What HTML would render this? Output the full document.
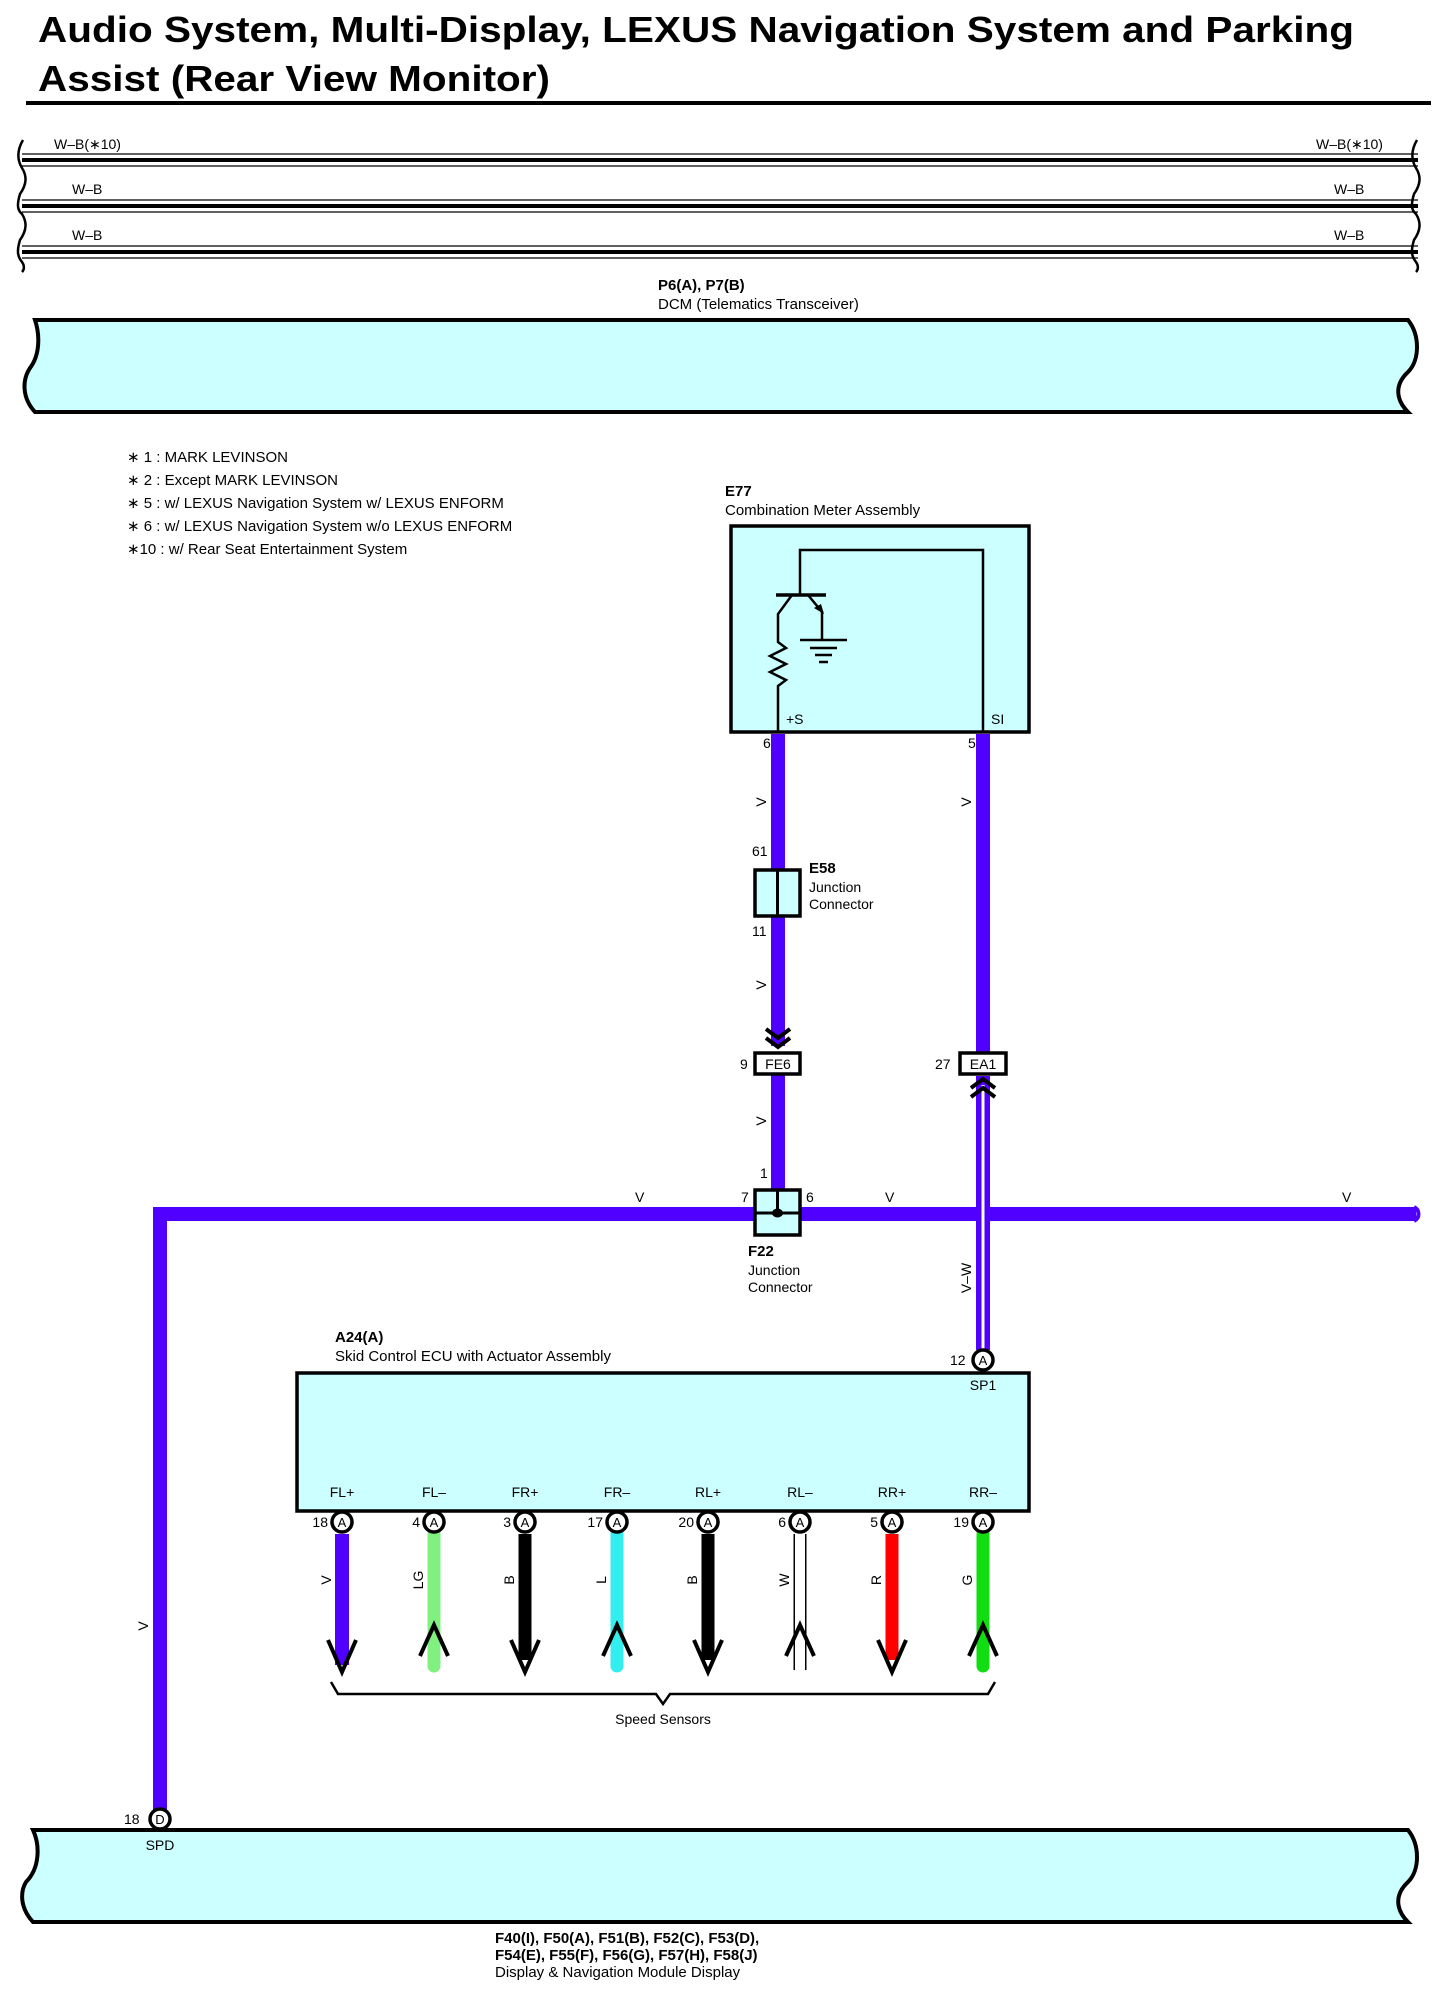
<!DOCTYPE html>
<html><head><meta charset="utf-8"><style>
html,body{margin:0;padding:0;background:#fff;}
svg{display:block;}
text{font-family:"Liberation Sans",Arial,sans-serif;fill:#000;}
</style></head><body>
<svg width="1440" height="1998" viewBox="0 0 1440 1998" xmlns="http://www.w3.org/2000/svg">
<!-- Title -->
<text x="38" y="42" font-size="36" font-weight="bold" textLength="1316" lengthAdjust="spacingAndGlyphs">Audio System, Multi-Display, LEXUS Navigation System and Parking</text>
<text x="38" y="91" font-size="36" font-weight="bold" textLength="512" lengthAdjust="spacingAndGlyphs">Assist (Rear View Monitor)</text>
<rect x="26" y="101" width="1405" height="4" fill="#000"/>

<!-- Bus lines -->
<g stroke="#000" fill="none">
 <g stroke-width="1.3">
  <line x1="22" y1="154" x2="1418" y2="154"/><line x1="22" y1="166" x2="1418" y2="166"/>
  <line x1="22" y1="200" x2="1418" y2="200"/><line x1="22" y1="212" x2="1418" y2="212"/>
  <line x1="22" y1="246" x2="1418" y2="246"/><line x1="22" y1="258" x2="1418" y2="258"/>
 </g>
 <g stroke-width="4">
  <line x1="22" y1="160" x2="1418" y2="160"/>
  <line x1="22" y1="206" x2="1418" y2="206"/>
  <line x1="22" y1="252" x2="1418" y2="252"/>
 </g>
 <path d="M23,140 C17,150 17,160 22,168 C27,176 27,184 20,194 C17,204 17,210 22,214 C27,222 27,230 20,240 C17,250 17,256 22,262 C25,266 24,270 22,272" stroke-width="2.5"/>
 <path d="M1417,140 C1411,150 1411,160 1416,168 C1421,176 1421,184 1414,194 C1411,204 1411,210 1416,214 C1421,222 1421,230 1414,240 C1411,250 1411,256 1416,262 C1419,266 1418,270 1416,272" stroke-width="2.5"/>
</g>
<g font-size="14">
 <text x="54" y="149">W–B(∗10)</text><text x="1316" y="149">W–B(∗10)</text>
 <text x="72" y="194">W–B</text><text x="1334" y="194">W–B</text>
 <text x="72" y="240">W–B</text><text x="1334" y="240">W–B</text>
</g>

<!-- DCM -->
<text x="658" y="290" font-size="15" font-weight="bold">P6(A), P7(B)</text>
<text x="658" y="309" font-size="15">DCM (Telematics Transceiver)</text>
<path d="M35,320 L1408,320 C1420,335 1420,360 1408,372 C1394,385 1396,400 1408,412 L35,412 C22,398 22,380 30,368 C40,355 40,335 35,320 Z" fill="#ccffff" stroke="#000" stroke-width="4"/>

<!-- Notes -->
<g font-size="15">
 <text x="127" y="462">∗ 1 : MARK LEVINSON</text>
 <text x="127" y="485">∗ 2 : Except MARK LEVINSON</text>
 <text x="127" y="508">∗ 5 : w/ LEXUS Navigation System w/ LEXUS ENFORM</text>
 <text x="127" y="531">∗ 6 : w/ LEXUS Navigation System w/o LEXUS ENFORM</text>
 <text x="127" y="554">∗10 : w/ Rear Seat Entertainment System</text>
</g>

<!-- E77 -->
<text x="725" y="496" font-size="15" font-weight="bold">E77</text>
<text x="725" y="515" font-size="15">Combination Meter Assembly</text>
<rect x="731" y="526" width="298" height="206" fill="#ccffff" stroke="#000" stroke-width="3.5"/>
<g stroke="#000" stroke-width="2.5" fill="none">
 <path d="M800,595 L800,550 L983,550 L983,732"/>
 <line x1="776" y1="595" x2="826" y2="595" stroke-width="3.5"/>
 <path d="M792,595 L778,614 L778,642 L786,648 L770,656 L786,664 L770,672 L786,680 L778,686 L778,732"/>
 <path d="M808,595 L822,612 L822,640"/>
 <line x1="800" y1="640" x2="847" y2="640"/>
 <line x1="810" y1="648" x2="837" y2="648"/>
 <line x1="815" y1="655" x2="832" y2="655"/>
 <line x1="819" y1="662" x2="828" y2="662"/>
</g>
<path d="M824,614 L814,608 L821,604 Z" fill="#000"/>
<text x="786" y="724" font-size="14">+S</text>
<text x="991" y="724" font-size="14">SI</text>

<!-- Wires -->
<g stroke="#5000ff" stroke-width="14" fill="none">
 <line x1="778" y1="734" x2="778" y2="870"/>
 <line x1="778" y1="916" x2="778" y2="1046"/>
 <line x1="778" y1="1074" x2="778" y2="1190"/>
 <line x1="983" y1="734" x2="983" y2="1052"/>
 <line x1="983" y1="1076" x2="983" y2="1350"/>
 <path d="M160,1812 L160,1214 L1416,1214"/>
 <line x1="342" y1="1534" x2="342" y2="1665"/>
</g>
<line x1="983" y1="1085" x2="983" y2="1350" stroke="#fff" stroke-width="3"/>
<path d="M1414,1207 C1420,1210 1420,1218 1414,1221" stroke="#5000ff" stroke-width="4" fill="none"/>

<!-- wire labels -->
<g font-size="14">
 <text x="763" y="748">6</text><text x="968" y="748">5</text>
 <text transform="translate(766,802) rotate(-90)" text-anchor="middle">V</text>
 <text transform="translate(971,802) rotate(-90)" text-anchor="middle">V</text>
 <text x="752" y="856">61</text>
 <text x="752" y="936">11</text>
 <text transform="translate(766,985) rotate(-90)" text-anchor="middle">V</text>
 <text transform="translate(766,1121) rotate(-90)" text-anchor="middle">V</text>
 <text x="760" y="1178">1</text>
 <text x="741" y="1202">7</text><text x="806" y="1202">6</text>
 <text x="635" y="1202">V</text><text x="885" y="1202">V</text><text x="1342" y="1202">V</text>
 <text transform="translate(971,1278) rotate(-90)" text-anchor="middle">V–W</text>
 <text transform="translate(148,1626) rotate(-90)" text-anchor="middle">V</text>
</g>

<!-- E58 -->
<rect x="755" y="870" width="45" height="46" fill="#ccffff" stroke="#000" stroke-width="3.5"/>
<line x1="777.5" y1="870" x2="777.5" y2="916" stroke="#000" stroke-width="3"/>
<text x="809" y="873" font-size="15" font-weight="bold">E58</text>
<text x="809" y="892" font-size="14">Junction</text>
<text x="809" y="909" font-size="14">Connector</text>

<!-- FE6 -->
<g stroke="#000" stroke-width="4" fill="none">
 <path d="M766,1029 L778,1038 L790,1029"/>
 <path d="M766,1038 L778,1047 L790,1038"/>
</g>
<rect x="755" y="1053" width="45" height="21" fill="#fff" stroke="#000" stroke-width="3.5"/>
<text x="778" y="1069" font-size="14" text-anchor="middle">FE6</text>
<text x="740" y="1069" font-size="14">9</text>

<!-- EA1 -->
<rect x="960" y="1053" width="46" height="21" fill="#fff" stroke="#000" stroke-width="3.5"/>
<text x="983" y="1069" font-size="14" text-anchor="middle">EA1</text>
<text x="935" y="1069" font-size="14">27</text>
<g stroke="#000" stroke-width="4" fill="none">
 <path d="M971,1088 L983,1079 L995,1088"/>
 <path d="M971,1097 L983,1088 L995,1097"/>
</g>

<!-- F22 -->
<rect x="755" y="1190" width="45" height="45" fill="#ccffff" stroke="#000" stroke-width="3.5"/>
<line x1="755" y1="1213" x2="800" y2="1213" stroke="#000" stroke-width="3"/>
<line x1="777.5" y1="1190" x2="777.5" y2="1213" stroke="#000" stroke-width="3"/>
<ellipse cx="777.5" cy="1213" rx="5.5" ry="4.5" fill="#000"/>
<text x="748" y="1256" font-size="15" font-weight="bold">F22</text>
<text x="748" y="1275" font-size="14">Junction</text>
<text x="748" y="1292" font-size="14">Connector</text>

<!-- A24 -->
<text x="335" y="1342" font-size="15" font-weight="bold">A24(A)</text>
<text x="335" y="1361" font-size="15">Skid Control ECU with Actuator Assembly</text>
<rect x="297" y="1373" width="732" height="138" fill="#ccffff" stroke="#000" stroke-width="3.5"/>
<circle cx="983" cy="1360" r="10" fill="#fff" stroke="#000" stroke-width="3.5"/>
<text x="983" y="1365" font-size="13" text-anchor="middle">A</text>
<text x="950" y="1365" font-size="14">12</text>
<text x="983" y="1390" font-size="14" text-anchor="middle">SP1</text>

<!-- Sensor wires -->
<g fill="none">
 <line x1="434" y1="1534" x2="434" y2="1666" stroke="#80f080" stroke-width="13" stroke-linecap="round"/>
 <line x1="525" y1="1534" x2="525" y2="1660" stroke="#000" stroke-width="13"/>
 <line x1="617" y1="1534" x2="617" y2="1666" stroke="#33eeee" stroke-width="13" stroke-linecap="round"/>
 <line x1="708" y1="1534" x2="708" y2="1660" stroke="#000" stroke-width="13"/>
 <line x1="800" y1="1534" x2="800" y2="1670" stroke="#000" stroke-width="13"/>
 <line x1="800" y1="1534" x2="800" y2="1670" stroke="#fff" stroke-width="10"/>
 <line x1="892" y1="1534" x2="892" y2="1660" stroke="#ff0000" stroke-width="13"/>
 <line x1="983" y1="1534" x2="983" y2="1666" stroke="#11dd11" stroke-width="13" stroke-linecap="round"/>
</g>
<g stroke="#000" stroke-width="4" fill="none">
 <path d="M328,1640 L342,1672 L356,1640"/>
 <path d="M420,1656 L434,1625 L448,1656"/>
 <path d="M511,1640 L525,1672 L539,1640"/>
 <path d="M603,1656 L617,1625 L631,1656"/>
 <path d="M694,1640 L708,1672 L722,1640"/>
 <path d="M786,1656 L800,1625 L814,1656"/>
 <path d="M878,1640 L892,1672 L906,1640"/>
 <path d="M969,1656 L983,1625 L997,1656"/>
</g>
<g font-size="14" text-anchor="middle">
 <text x="342" y="1497">FL+</text><text x="434" y="1497">FL–</text><text x="525" y="1497">FR+</text><text x="617" y="1497">FR–</text>
 <text x="708" y="1497">RL+</text><text x="800" y="1497">RL–</text><text x="892" y="1497">RR+</text><text x="983" y="1497">RR–</text>
</g>
<g fill="#fff" stroke="#000" stroke-width="3.5">
 <circle cx="342" cy="1522" r="10"/><circle cx="434" cy="1522" r="10"/><circle cx="525" cy="1522" r="10"/><circle cx="617" cy="1522" r="10"/>
 <circle cx="708" cy="1522" r="10"/><circle cx="800" cy="1522" r="10"/><circle cx="892" cy="1522" r="10"/><circle cx="983" cy="1522" r="10"/>
</g>
<g font-size="13" text-anchor="middle">
 <text x="342" y="1527">A</text><text x="434" y="1527">A</text><text x="525" y="1527">A</text><text x="617" y="1527">A</text>
 <text x="708" y="1527">A</text><text x="800" y="1527">A</text><text x="892" y="1527">A</text><text x="983" y="1527">A</text>
</g>
<g font-size="14" text-anchor="end">
 <text x="328" y="1527">18</text><text x="420" y="1527">4</text><text x="511" y="1527">3</text><text x="603" y="1527">17</text>
 <text x="694" y="1527">20</text><text x="786" y="1527">6</text><text x="878" y="1527">5</text><text x="969" y="1527">19</text>
</g>
<g font-size="14" text-anchor="middle">
 <text transform="translate(331,1580) rotate(-90)">V</text>
 <text transform="translate(423,1580) rotate(-90)">LG</text>
 <text transform="translate(514,1580) rotate(-90)">B</text>
 <text transform="translate(606,1580) rotate(-90)">L</text>
 <text transform="translate(697,1580) rotate(-90)">B</text>
 <text transform="translate(789,1580) rotate(-90)">W</text>
 <text transform="translate(881,1580) rotate(-90)">R</text>
 <text transform="translate(972,1580) rotate(-90)">G</text>
</g>
<path d="M331,1682 L338,1694 L656,1694 L663,1704 L670,1694 L988,1694 L995,1682" fill="none" stroke="#000" stroke-width="2.5"/>
<text x="663" y="1724" font-size="14" text-anchor="middle">Speed Sensors</text>

<!-- Display box -->
<path d="M33,1830 L1408,1830 C1420,1845 1420,1870 1408,1882 C1394,1895 1396,1910 1408,1922 L33,1922 C20,1908 20,1892 26,1882 C40,1868 40,1845 33,1830 Z" fill="#ccffff" stroke="#000" stroke-width="4"/>
<circle cx="160" cy="1819" r="10" fill="#fff" stroke="#000" stroke-width="3.5"/>
<text x="160" y="1824" font-size="13" text-anchor="middle">D</text>
<text x="124" y="1824" font-size="14">18</text>
<text x="160" y="1850" font-size="14" text-anchor="middle">SPD</text>
<text x="495" y="1943" font-size="15" font-weight="bold">F40(I), F50(A), F51(B), F52(C), F53(D),</text>
<text x="495" y="1960" font-size="15" font-weight="bold">F54(E), F55(F), F56(G), F57(H), F58(J)</text>
<text x="495" y="1977" font-size="15">Display &amp; Navigation Module Display</text>
</svg>
</body></html>
